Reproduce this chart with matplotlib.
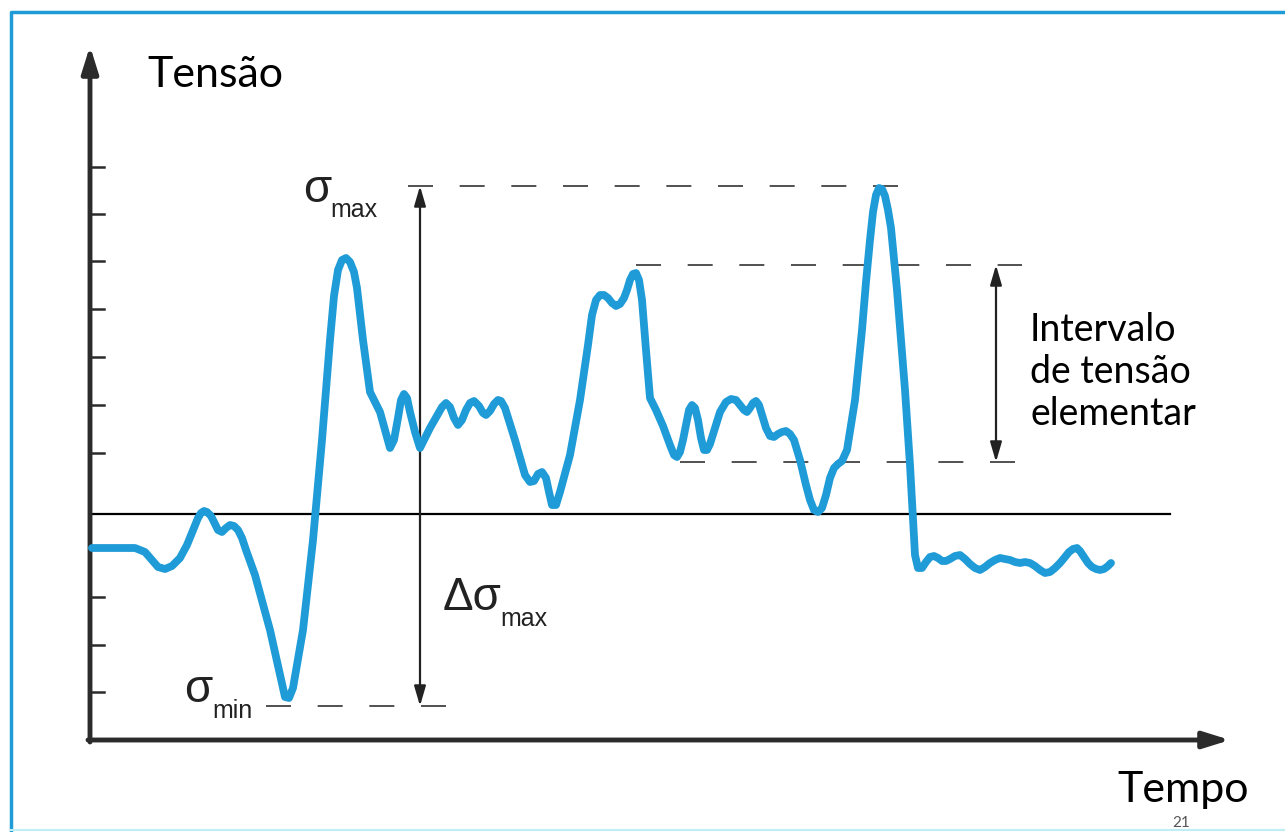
import matplotlib.pyplot as plt

# stress history (x: tempo, y: tensão, pixel-like units)
tempo = [92, 135, 145, 152, 158, 165, 172, 180, 187, 194, 198, 201, 204, 207,
         211, 214, 218, 222, 226, 230, 234, 238, 242, 246, 255, 270, 280, 285,
         289, 293, 303, 313, 322, 330, 334, 338, 342, 346, 350, 354, 357, 363,
         370, 375, 380, 385, 390, 394, 398, 401, 404, 407, 410, 415, 420, 430,
         438, 442, 446, 450, 454, 458, 462, 466, 470, 474, 479, 483, 486, 490,
         494, 498, 501, 505, 515, 525, 530, 534, 538, 542, 546, 549, 552, 556,
         560, 570, 580, 588, 592, 596, 600, 604, 608, 612, 616, 620, 624, 627,
         630, 633, 636, 639, 642, 646, 650, 656, 663, 670, 674, 677, 680, 683,
         686, 689, 692, 695, 698, 701, 704, 707, 710, 715, 720, 726, 731, 736,
         740, 744, 747, 750, 753, 756, 759, 762, 766, 770, 774, 778, 782, 786,
         790, 794, 800, 806, 810, 814, 818, 822, 826, 830, 834, 838, 842, 847,
         855, 862, 866, 870, 873, 876, 879, 882, 885, 888, 891, 897, 905, 910,
         913, 915, 918, 922, 926, 930, 934, 938, 942, 946, 950, 955, 960, 965,
         970, 975, 980, 985, 990, 995, 1000, 1005, 1010, 1015, 1020, 1025, 1030,
         1035, 1040, 1045, 1050, 1055, 1060, 1065, 1069, 1073, 1077, 1080, 1084,
         1088, 1092, 1096, 1100, 1104, 1108, 1111]
tensao = [548, 548, 552, 560, 567, 569, 566, 558, 545, 528, 518, 513, 511, 512,
          516, 522, 530, 532, 528, 525, 526, 530, 538, 550, 575, 630, 675, 697,
          698, 688, 630, 540, 440, 340, 296, 270, 260, 258, 262, 272, 288, 340,
          392, 402, 412, 430, 448, 440, 418, 400, 394, 398, 412, 432, 448, 428,
          414, 407, 403, 407, 418, 425, 420, 410, 403, 401, 406, 413, 415, 411,
          404, 400, 401, 408, 440, 475, 482, 481, 474, 472, 478, 492, 505, 505,
          492, 455, 400, 345, 315, 300, 295, 295, 298, 303, 306, 304, 298, 290,
          280, 274, 273, 280, 300, 350, 398, 410, 426, 445, 455, 457, 452, 440,
          425, 410, 405, 408, 420, 438, 450, 450, 444, 428, 412, 402, 399, 400,
          405, 410, 412, 408, 403, 401, 405, 415, 428, 436, 437, 434, 432, 431,
          434, 440, 460, 485, 500, 510, 512, 508, 495, 478, 468, 464, 461, 450,
          400, 330, 282, 240, 212, 195, 188, 189, 196, 210, 228, 290, 390, 465,
          520, 555, 568, 568, 562, 557, 556, 558, 561, 561, 559, 556, 555, 559,
          564, 568, 570, 567, 563, 560, 558, 559, 560, 562, 563, 562, 563,
          566, 570, 573, 572, 568, 563, 557, 552, 549, 548, 551, 557,
          563, 567, 569, 570, 569, 566, 563]

ticks_y = [167, 214, 261, 309, 357, 405, 453, 597, 645, 692]
zero_y = 514
sig_max, sig_min = 186, 706
elem_top, elem_bot = 265, 462

blue = '#1f9bd7'
dark = '#2b2b2b'

fig = plt.figure(figsize=(12.85, 8.32), dpi=100)
ax = fig.add_axes([0, 0, 1, 1])
ax.set_xlim(0, 1285)
ax.set_ylim(832, 0)
ax.axis('off')

# slide frame
ax.plot([11, 11, 1285], [832, 12, 12], color=blue, lw=2.5, solid_capstyle='butt')
ax.plot([11, 1285], [830, 830], color='#bfeef7', lw=1.5)

# axes with arrows
ax.annotate('', xy=(90, 46), xytext=(90, 742),
            arrowprops=dict(arrowstyle='-|>,head_length=1.6,head_width=0.5',
                            lw=3.5, color=dark, shrinkA=0, shrinkB=0))
ax.annotate('', xy=(1230, 740), xytext=(88, 740),
            arrowprops=dict(arrowstyle='-|>,head_length=1.6,head_width=0.5',
                            lw=3.5, color=dark, shrinkA=0, shrinkB=0))
for ty in ticks_y:
    ax.plot([90, 104], [ty, ty], color=dark, lw=1.8)
ax.plot([90, 1170], [zero_y, zero_y], color='black', lw=1.6)

# dashed reference levels
dash = dict(color='#333333', lw=1.2, dashes=(15, 16))
ax.plot([408, 900], [sig_max, sig_max], **dash)
ax.plot([636, 1022], [elem_top, elem_top], **dash)
ax.plot([680, 1018], [elem_bot, elem_bot], **dash)
ax.plot([266, 450], [sig_min, sig_min], **dash)

# double arrows
for xa, y0, y1 in [(420, sig_max, sig_min), (996, elem_top, elem_bot)]:
    ax.annotate('', xy=(xa, y0), xytext=(xa, y1),
                arrowprops=dict(arrowstyle='<|-|>,head_length=1.2,head_width=0.35',
                                lw=1.6, color='#222222', shrinkA=0, shrinkB=0))

# stress curve
ax.plot(tempo, tensao, color=blue, lw=5.6, solid_joinstyle='round',
        solid_capstyle='round', zorder=5)

# labels
ax.text(147, 75, 'Tensão', fontsize=31, family='Lato', va='center', ha='left')
ax.text(1117, 790, 'Tempo', fontsize=31, family='Lato', va='center', ha='left')
ax.text(1172, 816, '21', fontsize=11, family='Lato', va='top', ha='left',
        color='#555555')
ax.text(1030, 372, 'Intervalo\nde tensão\nelementar', fontsize=27, family='Lato',
        va='center', ha='left', linespacing=1.2)

sym = dict(family='Liberation Sans', color='#222222')
ax.text(303, 190, 'σ', fontsize=33, va='center', ha='left', **sym)
ax.text(330, 210, 'max', fontsize=18, va='center', ha='left', **sym)
ax.text(184, 690, 'σ', fontsize=33, va='center', ha='left', **sym)
ax.text(212, 711, 'min', fontsize=18, va='center', ha='left', **sym)
ax.text(443, 598, 'Δσ', fontsize=33, va='center', ha='left', **sym)
ax.text(500, 619, 'max', fontsize=18, va='center', ha='left', **sym)

fig.savefig('out.png', dpi=100)
